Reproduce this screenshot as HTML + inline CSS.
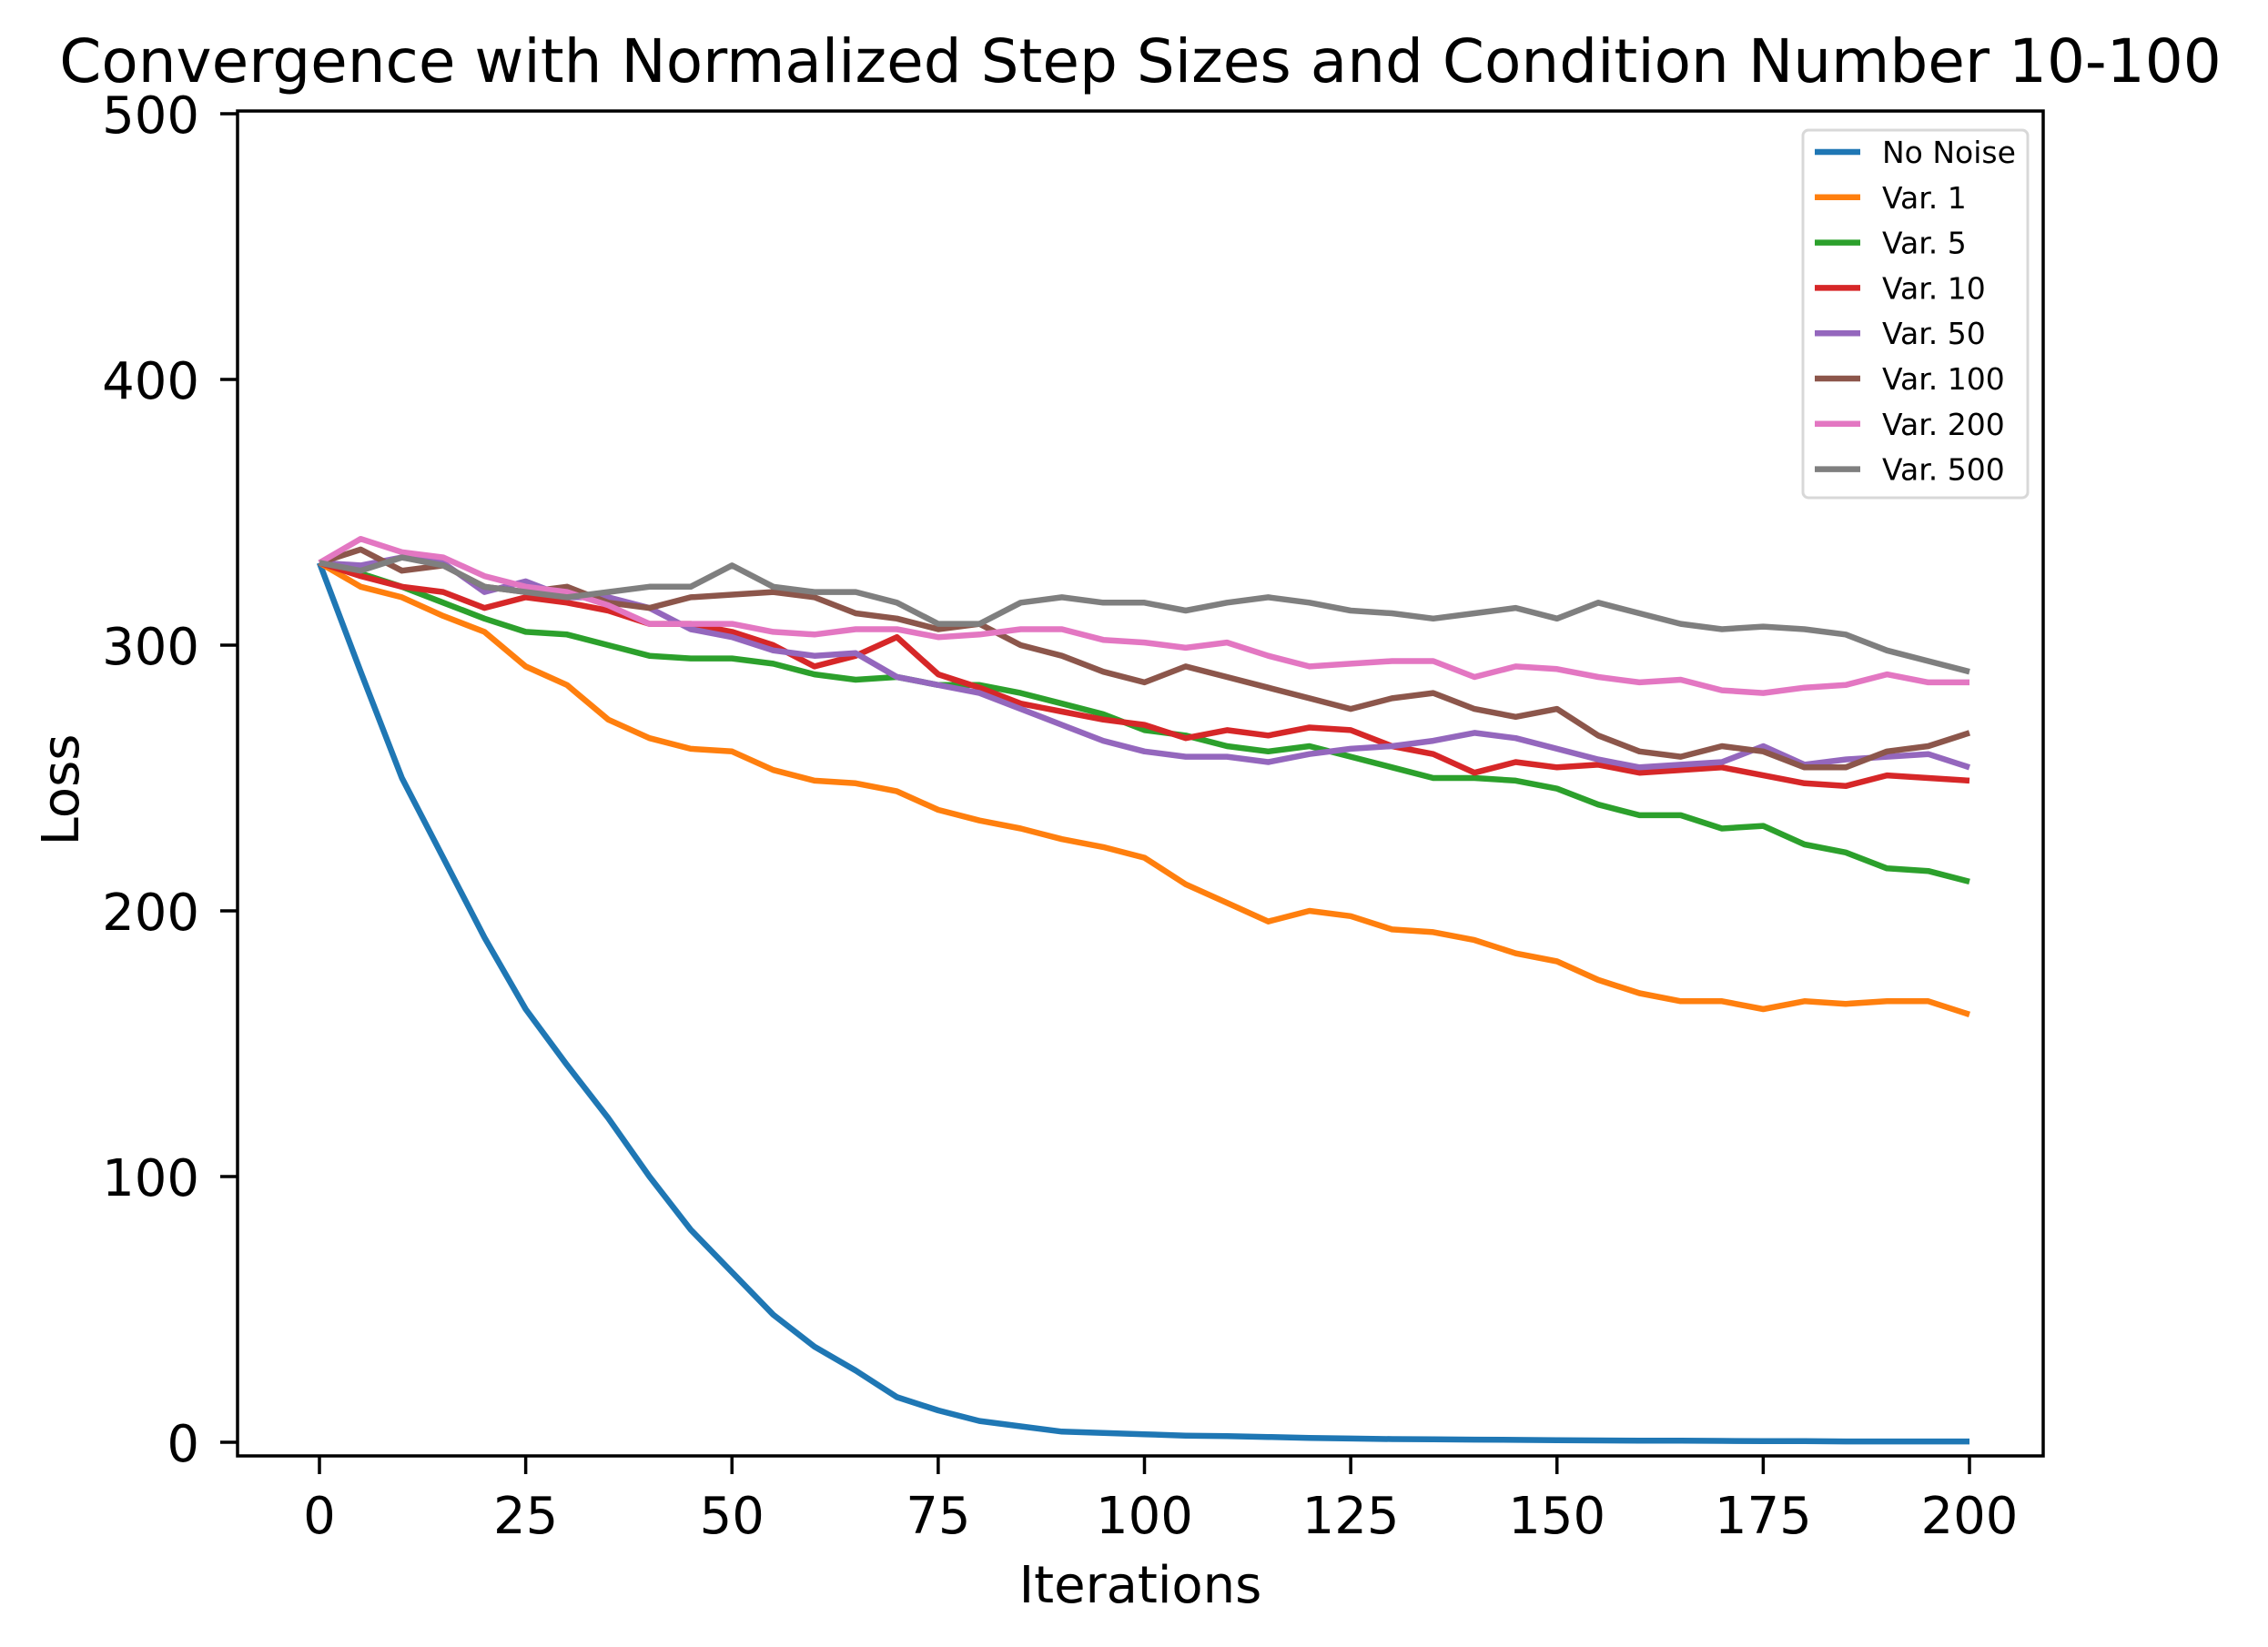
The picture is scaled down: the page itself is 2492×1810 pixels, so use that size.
<!DOCTYPE html>
<html><head><meta charset="utf-8"><style>
html,body{margin:0;padding:0;background:#fff}
svg{display:block}
text{font-family:"DejaVu Sans","Liberation Sans",sans-serif;fill:#000}
</style></head><body>
<svg id="chart" width="2492" height="1810" viewBox="0 0 2492 1810" xmlns="http://www.w3.org/2000/svg">
<rect width="2492" height="1810" fill="#fff"/>
<text x="1253" y="90" font-size="66" text-anchor="middle">Convergence with Normalized Step Sizes and Condition Number 10-100</text>
<g id="plot"></g>
<rect x="261" y="122" width="1984" height="1478" fill="none" stroke="#000" stroke-width="3.5"/>
<g id="ticks"></g>
<text x="0" y="0" font-size="56" text-anchor="middle" transform="translate(86,868) rotate(-90)">Loss</text>
<text x="1253" y="1761" font-size="56" text-anchor="middle">Iterations</text>
<g id="legend"></g>
</svg>
<script>
const xTicks=[0,25,50,75,100,125,150,175,200];
const yTicks=[0,100,200,300,400,500];
const iters=[0,5,10,15,20,25,30,35,40,45,50,55,60,65,70,75,80,85,90,95,100,105,110,115,120,125,130,135,140,145,150,155,160,165,170,175,180,185,190,195,200];
const seriesNames=["No Noise","Var. 1","Var. 5","Var. 10","Var. 50","Var. 100","Var. 200","Var. 500"];
const colors=["#1f77b4","#ff7f0e","#2ca02c","#d62728","#9467bd","#8c564b","#e377c2","#7f7f7f"];
const noNoise=[331,290,250,220,190,163,142,122,100,80,64,48,36,27,17,12,8,6,4,3.5,3,2.5,2.3,2,1.6,1.4,1.2,1.1,1,0.9,0.8,0.7,0.6,0.6,0.5,0.4,0.4,0.3,0.3,0.3,0.3];
const var1=[331,322,318,311,305,292,285,272,265,261,260,253,249,248,245,238,234,231,227,224,220,210,203,196,200,198,193,192,189,184,181,174,169,166,166,163,166,165,166,166,161];
const var5=[331,327,322,316,310,305,304,300,296,295,295,293,289,287,288,285,285,282,278,274,268,266,262,260,262,258,254,250,250,249,246,240,236,236,231,232,225,222,216,215,211];
const var10=[331,326,322,320,314,318,316,313,308,308,305,300,292,296,303,289,284,278,275,272,270,265,268,266,269,268,262,259,252,256,254,255,252,253,254,251,248,247,251,250,249];
const var50=[331,330,333,331,320,324,318,318,314,306,303,298,296,297,288,285,282,276,270,264,260,258,258,256,259,261,262,264,267,265,261,257,254,255,256,262,255,257,258,259,254];
const var100=[331,336,328,330,322,320,322,316,314,318,319,320,318,312,310,306,308,300,296,290,286,292,288,284,280,276,280,282,276,273,276,266,260,258,262,260,254,254,260,262,267];
const var200=[331,340,335,333,326,322,320,315,308,308,308,305,304,306,306,303,304,306,306,302,301,299,301,296,292,293,294,294,288,292,291,288,286,287,283,282,284,285,289,286,286];
const var500=[331,328,333,330,322,320,318,320,322,322,330,322,320,320,316,308,308,316,318,316,316,313,316,318,316,313,312,310,312,314,310,316,312,308,306,307,306,304,298,294,290];
const allSeries=[noNoise,var1,var5,var10,var50,var100,var200,var500];
const NS="http://www.w3.org/2000/svg";
const X=v=>351+v*(2164-351)/200;
const Y=v=>1585-v*(1585-125)/500;
function mk(tag,attrs,parent){const e=document.createElementNS(NS,tag);for(const k in attrs)e.setAttribute(k,attrs[k]);parent.appendChild(e);return e;}
const plot=document.getElementById('plot'),ticks=document.getElementById('ticks'),legend=document.getElementById('legend');
xTicks.forEach(t=>{
 const l=mk('line',{x1:X(t),x2:X(t),y1:1600,y2:1620,stroke:'#000','stroke-width':3.5},ticks);
 
 
 const tx=mk('text',{x:X(t),y:1685,'font-size':56,'text-anchor':'middle'},ticks);tx.textContent=t;
 
 
});
yTicks.forEach(t=>{
 const l=mk('line',{x1:242,x2:261,y1:Y(t),y2:Y(t),stroke:'#000','stroke-width':3.5},ticks);
 
 
 const tx=mk('text',{x:219,y:Y(t)+21,'font-size':56,'text-anchor':'end'},ticks);tx.textContent=t;
 
 
});
allSeries.forEach((s,i)=>{
 const d=s.map((v,j)=>(j?'L':'M')+X(iters[j]).toFixed(1)+' '+Y(v).toFixed(1)).join(' ');
 const p=mk('path',{d:d,fill:'none',stroke:colors[i],'stroke-width':6.5,'stroke-linejoin':'round'},plot);
 
 
});
const box=mk('rect',{x:1981,y:143,width:247,height:404,rx:6,fill:'#fff',stroke:'#d8d8d8','stroke-width':3},legend);


seriesNames.forEach((n,i)=>{
 const y=167+i*49.8;
 const l=mk('line',{x1:1994,x2:2044,y1:y,y2:y,stroke:colors[i],'stroke-width':6.5},legend);
 
 
 const t=mk('text',{x:2068,y:y+12,'font-size':33},legend);t.textContent=n;
 
 
});
</script>
</body></html>
